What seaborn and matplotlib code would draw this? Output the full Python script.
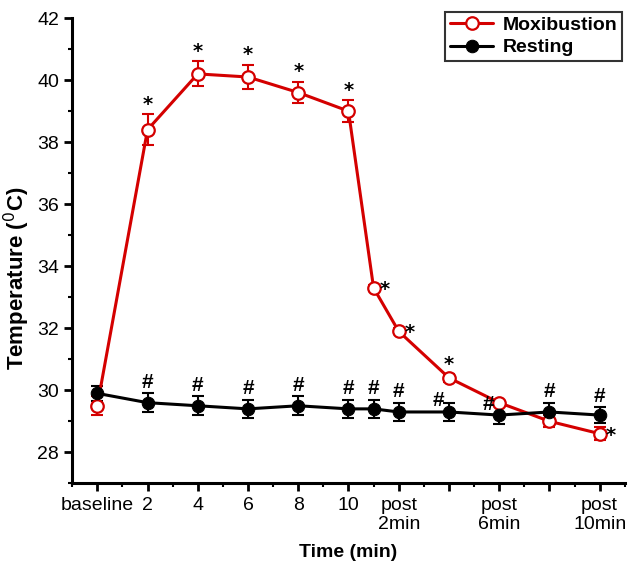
import matplotlib
matplotlib.use("Agg")
import matplotlib.pyplot as plt
import pandas as pd
import seaborn as sns
from matplotlib.ticker import MultipleLocator

# time points (min); baseline = 0, post-moxibustion points continue after 10
time_points = [0, 2, 4, 6, 8, 10, 11, 12, 14, 16, 18, 20]
moxibustion = [29.5, 38.4, 40.2, 40.1, 39.6, 39.0, 33.3, 31.9, 30.4, 29.6, 29.0, 28.6]
moxibustion_err = [0.3, 0.5, 0.4, 0.4, 0.35, 0.35, 0.1, 0.1, 0.12, 0.1, 0.2, 0.2]
resting = [29.9, 29.6, 29.5, 29.4, 29.5, 29.4, 29.4, 29.3, 29.3, 29.2, 29.3, 29.2]
resting_err = [0.25, 0.3, 0.3, 0.3, 0.3, 0.3, 0.3, 0.3, 0.3, 0.3, 0.3, 0.25]

# significance marks
star_above = [2, 4, 6, 8, 10, 14]
star_right = [11, 12, 20]
hash_above = [2, 4, 6, 8, 10, 11, 12, 18, 20]
hash_left = [14, 16]

tick_pos = [0, 2, 4, 6, 8, 10, 12, 14, 16, 18, 20]
tick_labels = ["baseline", "2", "4", "6", "8", "10", "post\n2min", "", "post\n6min", "", "post\n10min"]

RED = "#d40000"

sns.set_style("ticks")
plt.rcParams["font.family"] = ["Liberation Sans Narrow", "Liberation Sans", "DejaVu Sans"]
plt.rcParams.update({"text.color": "black", "axes.labelcolor": "black",
                     "xtick.color": "black", "ytick.color": "black",
                     "axes.edgecolor": "black"})

df = pd.DataFrame({
    "time": time_points * 2,
    "temp": moxibustion + resting,
    "group": ["Moxibustion"] * len(time_points) + ["Resting"] * len(time_points),
})

fig, ax = plt.subplots(figsize=(6.33, 5.83), dpi=100)
fig.subplots_adjust(left=0.114, right=0.987, bottom=0.171, top=0.969)

ax.errorbar(time_points, moxibustion, yerr=moxibustion_err, fmt="none",
            ecolor=RED, elinewidth=1.5, capsize=4, capthick=1.5, zorder=2)
ax.errorbar(time_points, resting, yerr=resting_err, fmt="none",
            ecolor="black", elinewidth=1.5, capsize=4, capthick=1.5, zorder=2)

sns.lineplot(data=df, x="time", y="temp", hue="group", style="group",
             palette={"Moxibustion": RED, "Resting": "black"},
             markers={"Moxibustion": "o", "Resting": "o"},
             dashes=False, linewidth=2.2, markersize=9, ax=ax, zorder=3)

# open red circles, filled black
for line in ax.lines:
    if line.get_color() == RED:
        line.set_markerfacecolor("white")
        line.set_markeredgecolor(RED)
        line.set_markeredgewidth(1.6)
    elif line.get_color() == "black":
        line.set_markerfacecolor("black")
        line.set_markeredgecolor("black")

mox = dict(zip(time_points, moxibustion))
mox_e = dict(zip(time_points, moxibustion_err))
rest = dict(zip(time_points, resting))
rest_e = dict(zip(time_points, resting_err))

star_kw = dict(fontsize=14, fontweight="bold", family="DejaVu Sans", color="black")
hash_kw = dict(fontsize=15, fontweight="bold", family="Liberation Sans", color="black")
for t in star_above:
    ax.text(t, mox[t] + mox_e[t] + 0.02, "*", ha="center", va="bottom", **star_kw)
for t in star_right:
    ax.text(t + 0.25, mox[t] - 0.05, "*", ha="left", va="center", **star_kw)
for t in hash_above:
    ax.text(t, rest[t] + rest_e[t] + 0.05, "#", ha="center", va="bottom", **hash_kw)
for t in hash_left:
    ax.text(t - 0.2, rest[t] + 0.05, "#", ha="right", va="bottom", **hash_kw)

ax.set_xlim(-1, 21)
ax.set_ylim(27, 42)
ax.set_xticks(tick_pos)
ax.set_xticklabels(tick_labels, fontsize=14)
ax.xaxis.set_minor_locator(MultipleLocator(1))
ax.yaxis.set_major_locator(MultipleLocator(2))
ax.yaxis.set_minor_locator(MultipleLocator(1))
ax.tick_params(axis="both", which="major", direction="out", length=6, width=2, labelsize=14)
ax.tick_params(axis="both", which="minor", direction="out", length=3, width=1.5)

sns.despine(ax=ax)
ax.spines["left"].set_linewidth(2.2)
ax.spines["bottom"].set_linewidth(2.2)

ax.set_xlabel("Time (min)", fontsize=14, fontweight="bold", family="Liberation Sans", labelpad=8)
ax.set_ylabel("Temperature ($^0$C)", fontsize=16, fontweight="bold", family="Liberation Sans")
ax.yaxis.set_label_coords(-0.072, 0.44)

leg = ax.legend(loc="upper right", bbox_to_anchor=(1.013, 1.035), frameon=True, fancybox=False,
                handlelength=2.2, borderpad=0.25, labelspacing=0.25, handletextpad=0.5,
                prop={"family": "Liberation Sans", "weight": "bold", "size": 14})
leg.get_frame().set_edgecolor("black")
leg.get_frame().set_linewidth(1.5)
for h in leg.legend_handles:
    if h.get_color() == RED:
        h.set_markerfacecolor("white")
        h.set_markeredgecolor(RED)

fig.savefig("out.png", dpi=100)
